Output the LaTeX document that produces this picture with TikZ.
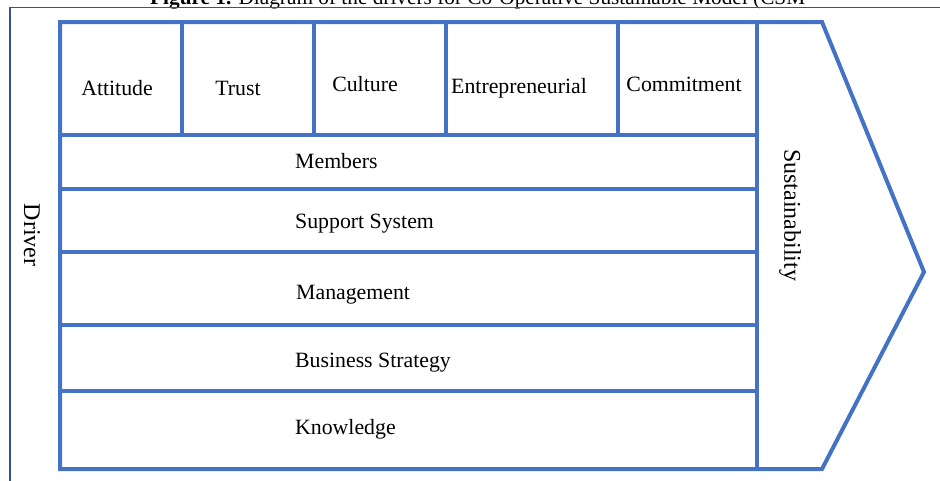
\documentclass[tikz,border=0pt]{standalone}
\usepackage{fontspec}
\setmainfont{Liberation Serif}
\definecolor{cellblue}{RGB}{68,114,196}
\definecolor{framecol}{RGB}{52,84,140}
\begin{document}
\begin{tikzpicture}[x=1pt,y=-1pt,
  blueline/.style={draw=cellblue,line width=4pt,line join=miter},
  frameline/.style={draw=framecol,line width=1.8pt},
  lbl/.style={inner sep=0pt,font=\fontsize{21.8}{24}\selectfont},
  rowlbl/.style={lbl,anchor=west},
  sidelbl/.style={inner sep=0pt,font=\fontsize{24}{27}\selectfont,rotate=-90}]
\useasboundingbox (0,0) rectangle (940,480);
\clip (0,0) rectangle (940,480);

% caption above the frame
\node[anchor=base west,inner sep=0pt,font=\fontsize{21.3}{24}\selectfont] (cap) at (150,4.5)
  {\textbf{Figure 1.} Diagram of the drivers for Co-Operative Sustainable Model (CSM};

% outer frame
\draw[frameline] (10,490) -- (10,7.5) -- (950,7.5);

% key points of the chevron
\coordinate (tl) at (60,22);
\coordinate (tr) at (822,22);
\coordinate (tip) at (924,272);
\coordinate (br) at (822,469);
\coordinate (bl) at (60,469);
\coordinate (st) at (757,22);
\coordinate (sb) at (757,469);

% chevron outline and sustainability divider
\draw[blueline] (tl) -- (tr) -- (tip) -- (br) -- (bl) -- cycle;
\draw[blueline] (st) -- (sb);

% horizontal row separators
\foreach \yy in {135,189,252,325,391}
  \draw[blueline] (60,\yy) -- (757,\yy);

% vertical separators of the top row
\foreach \xx in {182,314,446,618}
  \draw[blueline] (\xx,22) -- (\xx,135);

% top row labels
\node[lbl] (attitude) at (117,88) {Attitude};
\node[lbl] (trust) at (238,88) {Trust};
\node[lbl] (culture) at (365,84) {Culture};
\node[lbl] (entre) at (519,88) {Entrepreneurial};
\node[lbl] (commit) at (684,84) {Commitment};

% row labels
\node[rowlbl] (members) at (295,161) {Members};
\node[rowlbl] (support) at (295,224) {Support System};
\node[rowlbl] (manage) at (296,295) {Management};
\node[rowlbl] (business) at (295,363) {Business Strategy};
\node[rowlbl] (knowledge) at (295,429) {Knowledge};

% side labels
\node[sidelbl] (driver) at (32,235) {Driver};
\node[sidelbl] (sustain) at (790,215) {Sustainability};
\end{tikzpicture}
\end{document}
